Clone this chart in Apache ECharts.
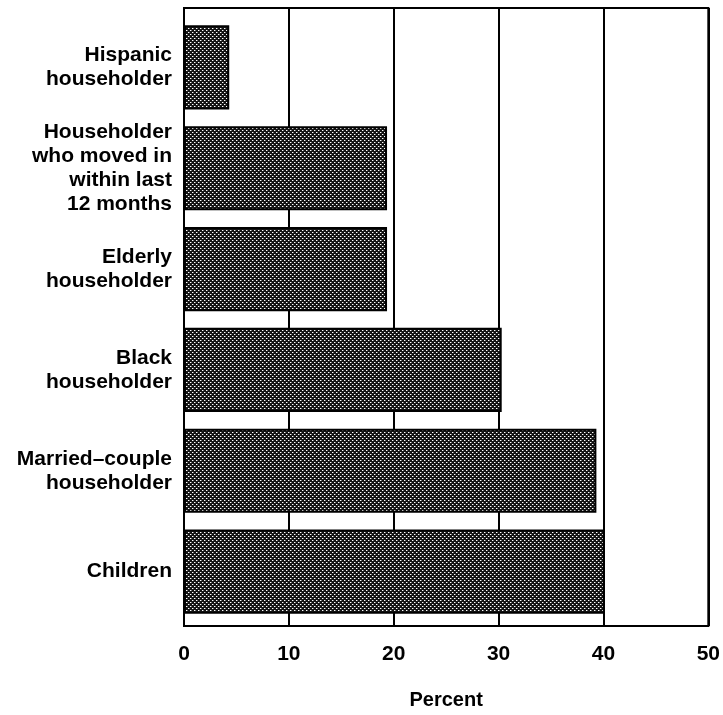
<!DOCTYPE html>
<html><head><meta charset="utf-8">
<script src="https://cdn.jsdelivr.net/npm/echarts@6/dist/echarts.min.js"></script>
<style>html,body{margin:0;padding:0;background:#fff}#c{width:723px;height:715px}</style>
</head><body><div id="c"></div>
<script>
const categories = ["Hispanic\nhouseholder", "Householder\nwho moved in\nwithin last\n12 months", "Elderly\nhouseholder", "Black\nhouseholder", "Married\u2013couple\nhouseholder", "Children"];
const values = [4.3, 19.3, 19.3, 30.2, 39.2, 40.0];
const xTicks = [0, 10, 20, 30, 40, 50];

const pc = document.createElement('canvas');
pc.width = 4; pc.height = 4;
const g = pc.getContext('2d');
g.fillStyle = '#141414'; g.fillRect(0, 0, 4, 4);
g.fillStyle = '#fff';
g.fillRect(0, 0, 1, 1); g.fillRect(2, 2, 1, 1);
g.fillStyle = '#777';
g.fillRect(1, 0, 1, 1); g.fillRect(3, 2, 1, 1);

const font = '"Liberation Sans", Arial, sans-serif';
const chart = echarts.init(document.getElementById('c'), null, {renderer: 'canvas'});
chart.setOption({
  animation: false,
  backgroundColor: '#fff',
  grid: [
    {left: 184, right: 13, top: 8, bottom: 84, show: true, borderColor: '#000', borderWidth: 2, containLabel: false},
    {left: 184, right: 13, top: 17, bottom: 93, containLabel: false}
  ],
  xAxis: [
    {gridIndex: 0, type: 'value', min: xTicks[0], max: xTicks[xTicks.length - 1], interval: 10,
     axisLine: {show: false}, axisTick: {show: false},
     splitLine: {show: true, lineStyle: {color: '#000', width: 2}},
     axisLabel: {margin: 18, fontSize: 21, fontWeight: 'bold', color: '#000', fontFamily: font},
     name: 'Percent', nameLocation: 'middle', nameGap: 64,
     nameTextStyle: {fontSize: 20, fontWeight: 'bold', color: '#000', fontFamily: font}},
    {gridIndex: 1, type: 'value', min: 0, max: 50, show: false}
  ],
  yAxis: [
    {gridIndex: 0, type: 'value', min: 0, max: 1, show: false},
    {gridIndex: 1, type: 'category', data: categories, inverse: true,
     axisLine: {show: false}, axisTick: {show: false}, splitLine: {show: false},
     axisLabel: {margin: 12, fontSize: 21, fontWeight: 'bold', color: '#000', fontFamily: font, lineHeight: 24, align: 'right'}}
  ],
  series: [{
    type: 'bar', xAxisIndex: 1, yAxisIndex: 1, data: values,
    barCategoryGap: '16.5%',
    itemStyle: {color: {image: pc, repeat: 'repeat'}, borderColor: '#000', borderWidth: 2}
  }]
});
</script></body></html>
